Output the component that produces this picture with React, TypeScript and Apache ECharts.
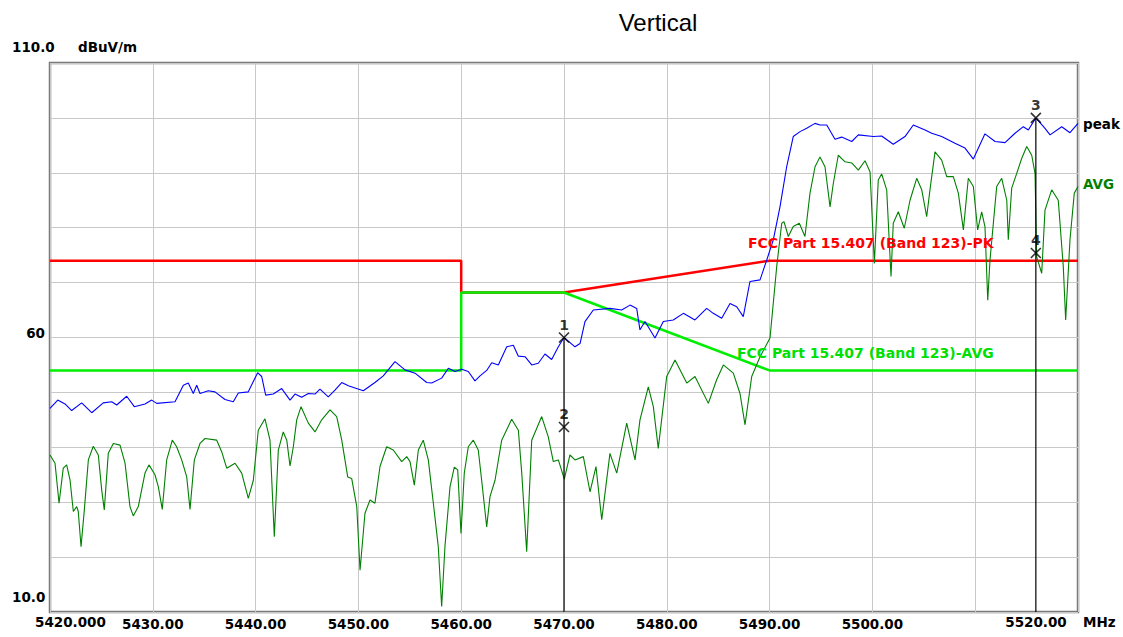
import React, { useEffect, useRef } from 'react';
import * as echarts from 'echarts';

const peakFreq = [5420.0,5420.75,5421.46,5422.11,5423.08,5424.06,5425.18,5426.0,5426.49,5427.46,
5428.2,5429.24,5429.89,5430.38,5432.16,5432.97,5433.45,5433.94,5434.27,5434.59,
5435.4,5436.05,5437.02,5437.83,5438.32,5439.29,5440.2,5440.59,5440.98,5441.72,
5442.54,5443.35,5443.83,5444.48,5445.13,5445.78,5446.26,5447.07,5447.72,5448.38,
5449.02,5450.48,5451.61,5452.42,5453.56,5454.53,5455.51,5456.64,5457.13,5458.1,
5458.75,5459.4,5460.05,5460.69,5461.34,5461.83,5462.48,5462.97,5463.61,5464.43,
5465.07,5465.56,5466.21,5466.86,5467.5,5468.15,5468.8,5469.45,5470.0,5471.07,
5471.56,5472.04,5472.85,5474.47,5475.61,5476.42,5477.07,5477.39,5477.88,5478.85,
5479.66,5480.63,5481.61,5482.74,5483.88,5484.52,5485.34,5486.15,5486.8,5487.44,
5488.09,5489.07,5489.72,5490.36,5491.01,5491.66,5492.3,5492.96,5493.61,5494.42,
5494.9,5495.56,5496.36,5497.01,5497.99,5498.63,5500.09,5500.9,5502.03,5503.17,
5503.98,5505.12,5505.77,5506.74,5508.03,5509.01,5509.82,5510.95,5511.93,5512.9,
5513.87,5514.68,5515.17,5515.9,5516.79,5517.28,5518.42,5519.22,5520.0];
const peakLevel = [47.1,48.6,47.9,46.7,48.1,46.3,48.1,48.3,47.7,49.3,
47.4,47.9,48.6,48.0,48.3,51.3,51.7,49.8,51.3,49.8,
50.3,50.1,48.7,48.3,49.9,50.1,53.6,52.9,49.5,49.7,
50.7,48.6,49.7,49.1,49.8,49.7,50.6,49.2,50.4,51.8,
51.2,50.3,51.8,53.0,55.6,54.1,53.5,51.8,51.7,52.6,
54.4,53.8,54.2,53.8,52.1,53.0,54.0,55.4,55.0,58.3,
58.6,56.6,56.5,55.0,55.3,57.0,56.0,58.3,60.0,58.3,
58.9,62.9,65.0,65.3,65.0,65.9,65.3,61.4,62.9,59.9,
62.9,63.2,64.4,63.2,65.3,64.4,63.5,66.2,65.6,63.8,
70.2,70.5,74.1,77.8,83.8,91.1,96.6,97.5,98.1,99.0,
98.7,98.7,96.1,96.5,95.7,96.9,96.6,96.7,95.2,96.6,
98.7,97.8,97.2,96.6,95.4,94.5,92.5,97.1,95.7,95.5,
97.2,98.4,97.8,100.0,98.1,96.9,98.4,97.3,99.0];

const avgFreq = [5420.0,5420.49,5420.88,5421.29,5421.62,5421.95,5422.27,5422.6,5422.75,5423.02,
5423.34,5423.73,5424.21,5424.7,5425.03,5425.28,5425.67,5426.16,5426.81,5427.3,
5427.78,5428.1,5428.59,5429.24,5429.63,5430.21,5430.54,5430.92,5431.35,5431.9,
5432.32,5432.81,5433.3,5433.62,5434.04,5434.59,5435.08,5436.22,5436.7,5437.19,
5438.0,5438.65,5439.29,5439.78,5440.26,5440.91,5441.4,5441.82,5442.21,5442.69,
5443.03,5443.35,5443.67,5444.0,5444.42,5445.13,5445.78,5446.43,5447.24,5447.89,
5448.38,5448.96,5449.35,5449.84,5450.16,5450.64,5451.13,5451.61,5452.1,5452.75,
5453.39,5454.21,5454.7,5455.02,5455.44,5455.83,5456.31,5456.8,5457.29,5457.77,
5458.1,5458.42,5458.91,5459.33,5459.66,5459.98,5460.3,5460.69,5461.18,5461.66,
5461.99,5462.48,5462.8,5463.29,5463.94,5464.91,5465.56,5465.89,5466.37,5466.86,
5467.83,5468.47,5468.96,5469.45,5470.03,5470.58,5471.07,5471.88,5472.53,5473.11,
5473.67,5474.47,5475.13,5476.1,5476.91,5477.39,5478.2,5478.69,5479.17,5479.99,
5480.8,5481.94,5482.74,5484.04,5484.85,5485.5,5486.47,5487.12,5487.61,5488.26,
5489.07,5490.04,5490.69,5491.18,5491.4,5491.82,5492.3,5492.89,5493.44,5493.93,
5494.42,5494.9,5495.39,5495.88,5496.2,5496.68,5497.34,5497.99,5498.63,5499.28,
5499.77,5500.19,5500.57,5500.9,5501.39,5501.81,5502.03,5502.52,5503.1,5503.66,
5504.31,5504.8,5505.28,5505.6,5506.09,5506.74,5507.23,5507.87,5508.36,5508.85,
5509.33,5509.82,5510.24,5510.63,5510.95,5511.22,5511.44,5512.09,5512.58,5513.07,
5513.22,5513.55,5514.04,5514.52,5515.01,5515.5,5515.82,5515.98,5516.47,5516.79,
5517.44,5518.08,5518.57,5518.8,5519.22,5519.64,5520.0];
const avgLevel = [38.6,37.1,29.8,36.2,36.8,34.0,28.3,29.2,28.3,21.9,
28.6,37.7,40.2,38.6,32.2,28.6,38.9,40.7,40.4,37.1,
29.2,27.5,29.2,35.3,36.8,35.0,32.8,28.7,37.7,41.3,
40.1,37.7,34.6,28.7,37.7,40.7,41.6,41.3,39.2,36.2,
37.1,35.3,30.7,34.0,43.1,45.2,41.3,23.7,39.5,42.8,
41.3,36.6,40.1,45.0,47.4,44.4,42.8,45.0,46.8,45.6,
41.3,34.6,34.3,29.2,17.6,28.0,30.4,29.8,36.5,40.1,
39.5,37.4,38.3,37.4,33.1,39.5,41.3,37.7,29.8,21.9,
11.0,21.9,32.8,36.4,35.9,24.3,35.3,40.1,41.3,39.5,
34.0,25.5,31.0,34.0,41.3,45.1,43.1,35.3,21.0,41.3,
45.6,41.9,37.4,37.7,34.2,38.6,37.7,38.3,31.9,36.5,
26.8,38.9,35.3,44.4,37.7,45.0,51.0,47.4,39.8,52.9,
55.9,51.7,52.9,48.0,52.3,55.0,53.5,49.8,44.1,52.9,
56.5,59.9,72.9,80.8,81.1,78.4,80.2,80.8,78.4,86.3,
91.1,92.9,91.1,83.8,88.1,93.2,92.0,91.8,90.5,92.2,
90.2,73.5,88.7,89.8,86.9,71.1,80.8,82.9,79.9,85.0,
89.0,86.9,82.0,86.9,93.8,92.3,89.3,89.3,86.3,79.6,
89.0,87.5,79.6,82.9,80.2,66.8,74.1,87.5,89.0,85.0,
77.8,87.2,89.9,92.6,94.8,93.2,89.9,74.7,71.7,83.2,
86.9,85.0,72.9,63.2,77.8,86.3,87.5];

const pkLimitFreq = [5420, 5460, 5460, 5470, 5490, 5520];
const pkLimitLevel = [74, 74, 68.2, 68.2, 74, 74];
const avgLimitFreq = [5420, 5460, 5460, 5470, 5490, 5520];
const avgLimitLevel = [54, 54, 68.2, 68.2, 54, 54];

const markerNames = ['1', '2', '3', '4'];
const markerFreq = [5470, 5470, 5515.9, 5515.9];
const markerLevel = [60, 43.7, 100, 75.4];

const xTickLabels = ['5430.00', '5440.00', '5450.00', '5460.00', '5470.00', '5480.00', '5490.00', '5500.00'];

const title = 'Vertical';
const yUnit = 'dBuV/m';
const pkLimitName = 'FCC Part 15.407 (Band 123)-PK';
const avgLimitName = 'FCC Part 15.407 (Band 123)-AVG';

const zip = (a: number[], b: number[]) => a.map((v, i) => [v, b[i]]);

const AX_FONT = 'bold 13.5px "DejaVu Sans"';

function txt(text: string, x: number, y: number, fill: string, font: string, align = 'left') {
  return {
    type: 'text',
    x,
    y,
    z: 100,
    style: { text, fill, font, align, verticalAlign: 'middle' },
  };
}

export default function App() {
  const ref = useRef<HTMLDivElement>(null);
  useEffect(() => {
    document.body.style.margin = '0';
    const chart = echarts.init(ref.current!, null, { renderer: 'svg' });
    const option: any = {
      animation: false,
      backgroundColor: '#ffffff',
      grid: {
        left: 50, top: 63, width: 1028, height: 549,
        show: true, borderColor: '#7a7a7a', borderWidth: 2.5, backgroundColor: '#ffffff',
      },
      xAxis: {
        type: 'value', min: 5420, max: 5520, interval: 10,
        axisLine: { show: false }, axisTick: { show: false },
        splitLine: { show: true, lineStyle: { color: '#c8c8c8', width: 1 } },
        axisLabel: {
          margin: 5, color: '#000', fontFamily: 'DejaVu Sans', fontWeight: 'bold', fontSize: 13.5,
          formatter: (v: number) => {
            const s = v.toFixed(2);
            return xTickLabels.indexOf(s) >= 0 ? s : '';
          },
        },
      },
      yAxis: {
        type: 'value', min: 10, max: 110, interval: 10,
        axisLine: { show: false }, axisTick: { show: false },
        axisLabel: { show: false },
        splitLine: { show: true, lineStyle: { color: '#c8c8c8', width: 1 } },
      },
      series: [
        {
          type: 'line', name: 'pkLimit', data: zip(pkLimitFreq, pkLimitLevel), symbol: 'none',
          lineStyle: { color: '#ff0000', width: 2.5 }, z: 2,
        },
        {
          type: 'line', name: 'avgLimit', data: zip(avgLimitFreq, avgLimitLevel), symbol: 'none',
          lineStyle: { color: '#00ee00', width: 2.5 }, z: 3,
        },
        {
          type: 'line', name: 'AVG', data: zip(avgFreq, avgLevel), symbol: 'none',
          lineStyle: { color: '#008000', width: 1.1 }, z: 4,
        },
        {
          type: 'line', name: 'peak', data: zip(peakFreq, peakLevel), symbol: 'none',
          lineStyle: { color: '#0000ff', width: 1.1 }, z: 5,
        },
        {
          type: 'line', name: 'm1line', data: [[markerFreq[0], markerLevel[0]], [markerFreq[0], 10]], symbol: 'none',
          lineStyle: { color: '#000000', width: 1.2 }, z: 6,
        },
        {
          type: 'line', name: 'm3line', data: [[markerFreq[2], markerLevel[2]], [markerFreq[2], 10]], symbol: 'none',
          lineStyle: { color: '#000000', width: 1.2 }, z: 6,
        },
        {
          type: 'scatter', name: 'markers', z: 7,
          symbol: 'path://M0,0L10,10M10,0L0,10', symbolSize: 10,
          itemStyle: { color: 'rgba(0,0,0,0)', borderColor: '#000000', borderWidth: 1.6 },
          label: {
            show: true, position: 'top', distance: 0, color: '#000',
            fontFamily: 'DejaVu Sans', fontWeight: 'bold', fontSize: 14,
            formatter: (p: any) => p.name,
          },
          data: markerNames.map((n, i) => ({ name: n, value: [markerFreq[i], markerLevel[i]] })),
        },
      ],
      graphic: [
        txt(title, 658, 22, '#000', '24px "Liberation Sans"', 'center'),
        txt('110.0', 12, 47, '#000', AX_FONT),
        txt(yUnit, 78, 47, '#000', AX_FONT),
        txt('60', 45, 333, '#000', AX_FONT, 'right'),
        txt('10.0', 12, 597, '#000', AX_FONT),
        txt('5420.000', 35, 622, '#000', AX_FONT),
        txt('5520.00', 1036, 622, '#000', AX_FONT, 'center'),
        txt('MHz', 1083, 622, '#000', AX_FONT),
        txt('peak', 1083, 124, '#000', AX_FONT),
        txt('AVG', 1083, 184, '#008000', AX_FONT),
        txt(pkLimitName, 748, 243, '#ff0000', 'bold 14px "DejaVu Sans"'),
        txt(avgLimitName, 737, 353, '#00e000', 'bold 14px "DejaVu Sans"'),
      ],
    };
    chart.setOption(option);
    return () => chart.dispose();
  }, []);
  return <div ref={ref} style={{ width: 1123, height: 637, background: '#ffffff' }} />;
}
